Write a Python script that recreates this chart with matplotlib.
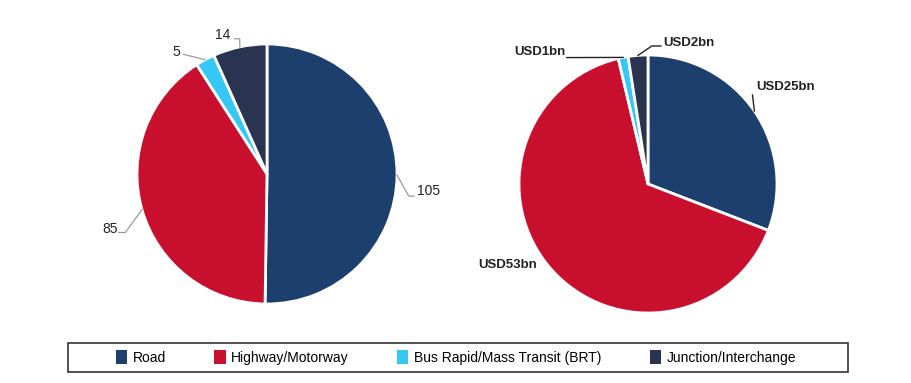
import numpy as np
import matplotlib.pyplot as plt
from matplotlib.patches import Patch, Rectangle

plt.rcParams['font.family'] = ['Liberation Sans', 'DejaVu Sans']

# Data
categories = ['Road', 'Highway/Motorway', 'Bus Rapid/Mass Transit (BRT)', 'Junction/Interchange']
count_values = [105, 85, 5, 14]
usd_values = [25, 53, 1, 2]
usd_labels = ['USD25bn', 'USD53bn', 'USD1bn', 'USD2bn']
colors = ['#1D3F6E', '#C8102E', '#35C8F4', '#2A3350']

W, H = 911, 383
fig = plt.figure(figsize=(W / 100, H / 100), dpi=100)


def pie_axes(cx, cy, r):
    # pixel centre/radius -> axes where radius 1 == r px
    ax = fig.add_axes([(cx - r) / W, 1 - (cy + r) / H, 2 * r / W, 2 * r / H])
    ax.set_xlim(-1, 1)
    ax.set_ylim(-1, 1)
    ax.set_aspect('equal')
    ax.axis('off')
    return ax


def mid_point(vals, i):
    total = float(sum(vals))
    start = 90 - 360 * sum(vals[:i]) / total
    mid = np.deg2rad(start - 180 * vals[i] / total)
    return np.cos(mid), np.sin(mid)


# Left pie
ax1 = pie_axes(267, 174, 130)
ax1.pie(count_values, colors=colors, startangle=90, counterclock=False, radius=1,
        wedgeprops=dict(edgecolor='white', linewidth=2), frame=False)
ax1.set_xlim(-1, 1)
ax1.set_ylim(-1, 1)

# leader line bends and text positions (in radius units)
left_lines = [[(1.09, -0.17), (1.13, -0.17)],
              [(-1.09, -0.45), (-1.14, -0.45)],
              [(-0.64, 0.92)],
              [(-0.21, 1.04), (-0.25, 1.04)]]
left_text = [(1.15, -0.13, 'left'), (-1.15, -0.42, 'right'),
             (-0.67, 0.94, 'right'), (-0.28, 1.07, 'right')]
for i, v in enumerate(count_values):
    x0, y0 = mid_point(count_values, i)
    pts = [(x0, y0)] + left_lines[i]
    ax1.plot([p[0] for p in pts], [p[1] for p in pts], color='#9a9a9a', lw=0.9,
             clip_on=False)
    tx, ty, ha = left_text[i]
    ax1.text(tx, ty, str(v), ha=ha, va='center', fontsize=10, color='#222222')

# Right pie
ax2 = pie_axes(648, 184, 129)
ax2.pie(usd_values, colors=colors, startangle=90, counterclock=False, radius=1,
        wedgeprops=dict(edgecolor='white', linewidth=2), frame=False)
ax2.set_xlim(-1, 1)
ax2.set_ylim(-1, 1)

right_lines = [[(0.81, 0.69)],
               [],
               [(-0.63, 0.98)],
               [(0.03, 1.07), (0.1, 1.07)]]
right_text = [(0.84, 0.75, 'left'), (-0.86, -0.63, 'right'),
              (-0.64, 1.02, 'right'), (0.12, 1.09, 'left')]
for i, lab in enumerate(usd_labels):
    x0, y0 = mid_point(usd_values, i)
    if right_lines[i]:
        pts = [(x0, y0)] + right_lines[i]
        ax2.plot([p[0] for p in pts], [p[1] for p in pts], color='#222222', lw=1.0,
                 clip_on=False)
    tx, ty, ha = right_text[i]
    ax2.text(tx, ty, lab, ha=ha, va='center', fontsize=9.5, fontweight='bold',
             color='#222222')

# Legend box
fig.patches.append(Rectangle((68 / W, 1 - 372 / H), 780 / W, 29 / H,
                             transform=fig.transFigure, facecolor='white',
                             edgecolor='#333333', linewidth=1.2))
handles = [Patch(facecolor=c, edgecolor='none') for c in colors]
fig.legend(handles, categories, loc='center', bbox_to_anchor=(456 / W, 1 - 357.5 / H),
           ncol=4, frameon=False, fontsize=10, handlelength=0.8, handleheight=1.2,
           handletextpad=0.4, columnspacing=3.5)

fig.savefig('out.png', dpi=100, facecolor='white')
